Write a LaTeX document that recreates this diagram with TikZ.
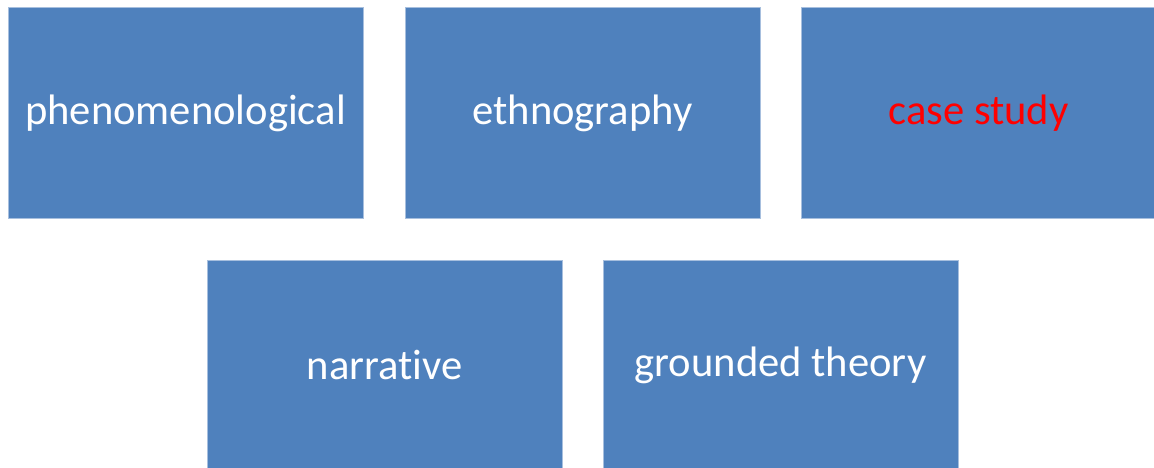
\documentclass[tikz,border=0pt]{standalone}
\usepackage{fontspec}
\setmainfont{Carlito}[Ligatures={NoCommon,NoRare,NoContextual}]
\definecolor{boxfill}{HTML}{4F81BD}
\definecolor{boxline}{HTML}{A7BFDE}
\begin{document}
\begin{tikzpicture}[x=1pt,y=-1pt,
  box/.style={draw=boxline,line width=1pt,fill=boxfill,minimum width=355pt,minimum height=210pt,inner sep=0pt,text=white,font=\fontsize{42.6}{50}\selectfont}]
\useasboundingbox (0,0) rectangle (1154,468);
\begin{scope}
\clip (0,0) rectangle (1154,468);
\node[box] (phen) at (185.5,113) {phenomenological};
\node[box] (ethn) at (582.5,113) {ethnography};
\node[box,text=red] (case) at (978.5,113) {case study};
\node[box] (narr) at (384.5,365) {narrative};
\node[box] (grnd) at (780.5,365) {grounded theory};
\end{scope}
\end{tikzpicture}
\end{document}
